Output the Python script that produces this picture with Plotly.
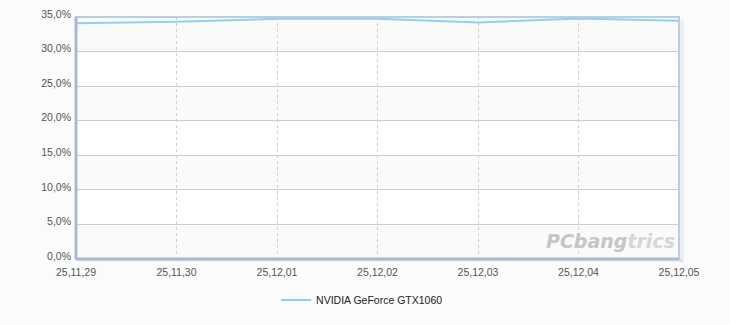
import plotly.graph_objects as go

dates = ["25,11,29", "25,11,30", "25,12,01", "25,12,02", "25,12,03", "25,12,04", "25,12,05"]
share = [34.1, 34.3, 34.75, 34.75, 34.2, 34.8, 34.45]
series_name = "NVIDIA GeForce GTX1060"
y_ticks = [0, 5, 10, 15, 20, 25, 30, 35]
y_tick_labels = ["0,0%", "5,0%", "10,0%", "15,0%", "20,0%", "25,0%", "30,0%", "35,0%"]

fig = go.Figure()
fig.add_trace(go.Scatter(
    x=list(range(len(dates))), y=share, mode="lines", name=series_name,
    line=dict(color="#8fd0f2", width=2), showlegend=True,
))

shapes = []
# alternating bands
for lo in [0, 10, 20, 30]:
    shapes.append(dict(type="rect", xref="x domain", yref="y", x0=0, x1=1, y0=lo, y1=lo + 5,
                       fillcolor="#fafafa", line=dict(width=0), layer="below"))
# shadow
shapes.append(dict(type="rect", xref="paper", yref="paper", x0=0.004, x1=1.006, y0=-0.012, y1=0.0,
                   fillcolor="rgba(0,0,0,0.05)", line=dict(width=0), layer="below"))
shapes.append(dict(type="rect", xref="paper", yref="paper", x0=1.0, x1=1.008, y0=-0.012, y1=0.99,
                   fillcolor="rgba(0,0,0,0.05)", line=dict(width=0), layer="below"))
# border
shapes.append(dict(type="rect", xref="paper", yref="paper", x0=0, x1=1, y0=0, y1=1,
                   line=dict(color="#bccde0", width=2), fillcolor="rgba(0,0,0,0)", layer="above"))
shapes.append(dict(type="line", xref="paper", yref="paper", x0=0, x1=0, y0=0, y1=1,
                   line=dict(color="#a9bad0", width=3), layer="above"))
shapes.append(dict(type="line", xref="paper", yref="paper", x0=0, x1=1, y0=0, y1=0,
                   line=dict(color="#a9bad0", width=3), layer="above"))

fig.update_layout(
    width=730, height=325,
    margin=dict(l=76, r=51, t=17, b=66, autoexpand=False),
    paper_bgcolor="#fbfbfb", plot_bgcolor="#ffffff",
    font=dict(family="Liberation Sans, Arial, sans-serif", size=10.5, color="#555555"),
    shapes=shapes,
    showlegend=True,
    legend=dict(orientation="h", xref="container", yref="container", x=0.496, y=0.077,
                xanchor="center", yanchor="middle", bgcolor="rgba(0,0,0,0)",
                font=dict(family="Liberation Sans, Arial, sans-serif", size=10.5, color="#222222")),
    annotations=[dict(
        xref="paper", yref="paper", x=0.997, y=0.02, xanchor="right", yanchor="bottom",
        text="<b><i><span style='color:#c6c6c6'>PCbang</span><span style='color:#d6d6d6'>trics</span></i></b>",
        showarrow=False, font=dict(family="DejaVu Sans, sans-serif", size=19, color="#c6c6c6"),
    )],
)
fig.update_xaxes(
    range=[0, len(dates) - 1], tickvals=list(range(len(dates))), ticktext=dates,
    showgrid=True, gridcolor="#cfcfcf", griddash="3px,3px", gridwidth=1,
    zeroline=False, showline=False, ticks="", ticklabelstandoff=5, automargin=False,
    tickfont=dict(size=10.5, color="#555555"),
)
fig.update_yaxes(
    range=[0, 35], tickvals=y_ticks, ticktext=y_tick_labels,
    showgrid=True, gridcolor="#cccccc", gridwidth=1,
    zeroline=False, showline=False, ticks="", ticklabelstandoff=4, ticklabelshift=-3,
    automargin=False, tickfont=dict(size=10.5, color="#555555"),
)
fig.write_html("out.html")
